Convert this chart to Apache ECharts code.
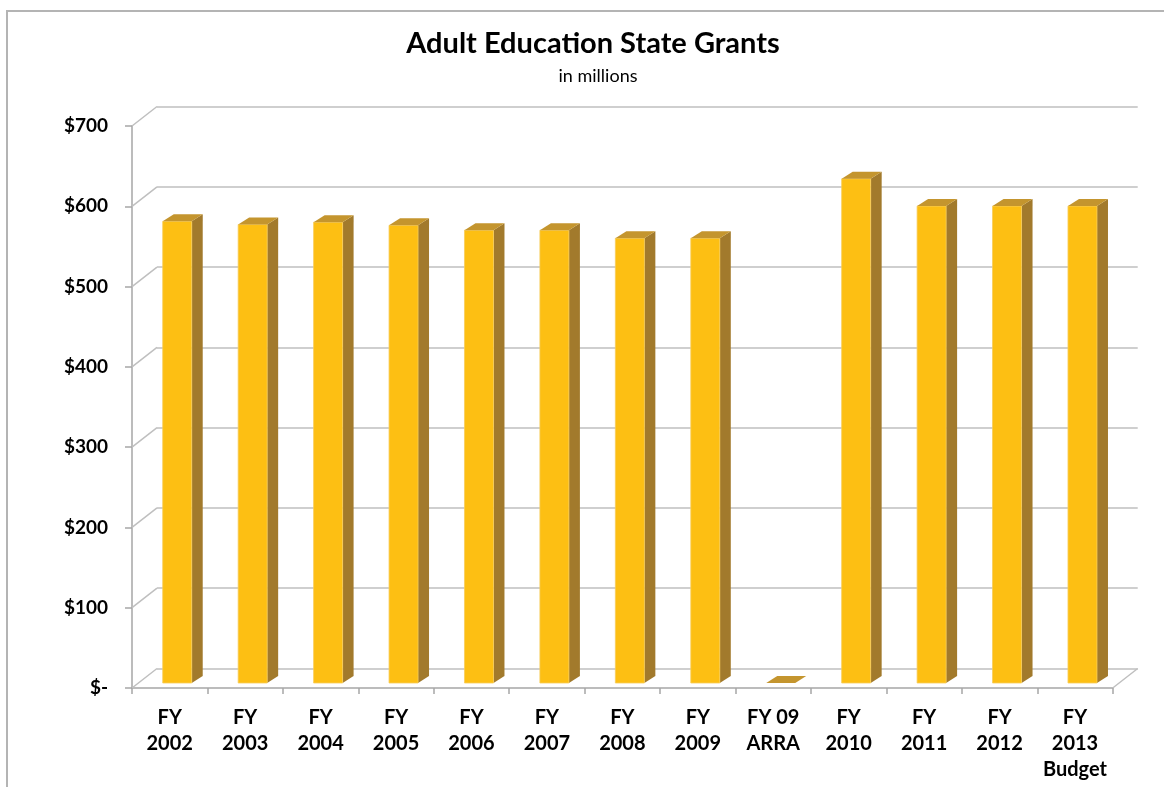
<!DOCTYPE html>
<html>
<head>
<meta charset="utf-8">
<title>Adult Education State Grants</title>
<script src="https://cdn.jsdelivr.net/npm/echarts@6/dist/echarts.min.js"></script>
<style>
  html, body { margin: 0; padding: 0; background: #fff; }
  #chart { width: 1164px; height: 787px; }
</style>
</head>
<body>
<div id="chart"></div>
<script>
// Fiscal years shown along the floor of the chart
const categories = [
  'FY\n2002', 'FY\n2003', 'FY\n2004', 'FY\n2005', 'FY\n2006', 'FY\n2007',
  'FY\n2008', 'FY\n2009', 'FY 09\nARRA', 'FY\n2010', 'FY\n2011', 'FY\n2012',
  'FY\n2013\nBudget'
];
// State grant amounts, $ millions
const grants = [575, 571, 574, 570, 564, 564, 554, 554, 0, 628, 594, 594, 594];
// Value axis levels ($ millions)
const levels = [0, 100, 200, 300, 400, 500, 600, 700];

const FONT = 'Lato, "Open Sans", sans-serif';
const GRID_COLOR = '#BFBFBF';
const AXIS_COLOR = '#A6A6A6';

// Oblique depth of the plot box (front plane -> back wall)
const WALL_DX = 25, WALL_DY = -19.5;
// Where the bar front faces sit inside the box, and their thickness
const BAR_DX = 6.5, BAR_DY = -5;
const BAR_LEFT = -13.5, BAR_WIDTH = 29;
const BAR_DEPTH_X = 11, BAR_DEPTH_Y = -7;

const FRONT = '#FDBF13';
const SIDE = '#A27A2C';
const TOP = '#C4952E';

const chart = echarts.init(document.getElementById('chart'), null, { renderer: 'canvas' });

function renderBar(params, api) {
  const i = api.value(0);
  const v = api.value(1);
  const top = api.coord([i, v]);
  const base = api.coord([i, 0]);
  const x0 = top[0] + BAR_DX + BAR_LEFT;
  const x1 = x0 + BAR_WIDTH;
  const yT = top[1] + BAR_DY;
  const yB = base[1] + BAR_DY;
  const dx = BAR_DEPTH_X, dy = BAR_DEPTH_Y;
  const children = [];
  if (yB - yT > 0.5) {
    children.push({
      type: 'polygon',
      shape: { points: [[x1, yT], [x1 + dx, yT + dy], [x1 + dx, yB + dy], [x1, yB]] },
      style: { fill: SIDE }
    });
    children.push({
      type: 'rect',
      shape: { x: x0, y: yT, width: BAR_WIDTH, height: yB - yT },
      style: { fill: FRONT, stroke: '#F8CD5A', lineWidth: 0.8 }
    });
  }
  children.push({
    type: 'polygon',
    shape: { points: [[x0, yT], [x0 + dx, yT + dy], [x1 + dx, yT + dy], [x1, yT]] },
    style: { fill: TOP }
  });
  return { type: 'group', children: children };
}

// Left-wall diagonals at each value level, plus the right floor edge
function renderWall(params, api) {
  const v = api.value(0);
  const p = api.coord([0, v]);
  const band = api.size([1, 0])[0];
  const xl = p[0] - band / 2;
  const children = [{
    type: 'line',
    shape: { x1: xl, y1: p[1], x2: xl + WALL_DX, y2: p[1] + WALL_DY },
    style: { stroke: GRID_COLOR, lineWidth: 1.5 }
  }];
  if (v === 0) {
    const q = api.coord([categories.length - 1, 0]);
    const xr = q[0] + band / 2;
    children.push({
      type: 'line',
      shape: { x1: xr, y1: q[1], x2: xr + WALL_DX, y2: q[1] + WALL_DY },
      style: { stroke: GRID_COLOR, lineWidth: 1.5 }
    });
  }
  return { type: 'group', children: children };
}

const frontGrid = { left: 132, right: 51.3, top: 126, bottom: 99 };
const backGrid = {
  left: frontGrid.left + WALL_DX,
  right: frontGrid.right - WALL_DX,
  top: frontGrid.top + WALL_DY,
  bottom: frontGrid.bottom - WALL_DY
};

const option = {
  animation: false,
  backgroundColor: '#fff',
  graphic: [
    {
      type: 'rect',
      shape: { x: 7, y: 11, width: 1300, height: 900 },
      style: { fill: 'none', stroke: '#B4B4B4', lineWidth: 2 },
      silent: true, z: -10
    },
    {
      type: 'text', x: 593, y: 44,
      style: {
        text: 'Adult Education State Grants',
        font: 'bold 29px ' + FONT, fill: '#000',
        textAlign: 'center', textVerticalAlign: 'middle'
      }
    },
    {
      type: 'text', x: 598, y: 76,
      style: {
        text: 'in millions',
        font: '18px ' + FONT, fill: '#000',
        textAlign: 'center', textVerticalAlign: 'middle'
      }
    }
  ],
  grid: [
    Object.assign({ containLabel: false }, frontGrid),
    Object.assign({ containLabel: false }, backGrid)
  ],
  xAxis: [
    {
      type: 'category', gridIndex: 0, data: categories, boundaryGap: true,
      axisLine: { show: true, lineStyle: { color: AXIS_COLOR, width: 1.5 } },
      axisTick: { show: true, length: 6, lineStyle: { color: AXIS_COLOR, width: 1.5 } },
      axisLabel: {
        interval: 0, margin: 17, color: '#000',
        fontFamily: FONT, fontWeight: 'bold', fontSize: 20, lineHeight: 26
      },
      splitLine: { show: false }
    },
    {
      type: 'category', gridIndex: 1, data: categories, boundaryGap: true,
      show: false
    }
  ],
  yAxis: [
    {
      type: 'value', gridIndex: 0, min: 0, max: 700, interval: 100,
      axisLine: { show: true, lineStyle: { color: AXIS_COLOR, width: 1.5 } },
      axisTick: { show: true, length: 7, lineStyle: { color: AXIS_COLOR, width: 1.5 } },
      axisLabel: {
        margin: 24, color: '#000',
        fontFamily: FONT, fontWeight: 'bold', fontSize: 19,
        formatter: v => (v === 0 ? '$-' : '$' + v)
      },
      splitLine: { show: false }
    },
    {
      type: 'value', gridIndex: 1, min: 0, max: 700, interval: 100,
      axisLine: { show: false }, axisTick: { show: false }, axisLabel: { show: false },
      splitLine: { show: true, lineStyle: { color: GRID_COLOR, width: 1.5 } }
    }
  ],
  series: [
    {
      type: 'custom', name: 'walls', xAxisIndex: 0, yAxisIndex: 0,
      renderItem: renderWall, silent: true, z: 1,
      data: levels.map(v => [v])
    },
    {
      type: 'custom', name: 'State Grants', xAxisIndex: 0, yAxisIndex: 0,
      renderItem: renderBar, z: 5,
      encode: { x: 0, y: 1 },
      data: grants.map((v, i) => [i, v])
    }
  ]
};

chart.setOption(option);
</script>
</body>
</html>
